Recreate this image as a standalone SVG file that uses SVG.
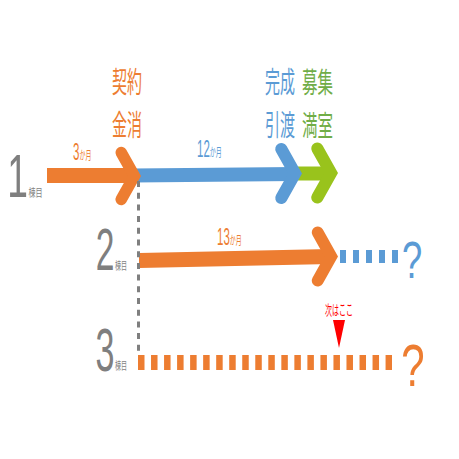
<svg xmlns="http://www.w3.org/2000/svg" width="459" height="459" viewBox="0 0 459 459">
<style>
.jp{font-family:"Noto Sans CJK JP","Noto Sans",sans-serif;}
.num{font-family:"Liberation Sans",Arial,sans-serif;}
.grey{fill:#7f7f7f;}
.or{fill:#ED7D31;}
.bl{fill:#5B9BD5;}
.gr{fill:#70AD47;}
.lime{fill:#99C31C;}
.big{font-size:29px;}
</style>
<defs>
<path id="chev" d="M0,0 L-14,-25 A5.5,5.5 0 0 0 -23.6,-19.6 L-12.6,0 L-23.6,19.6 A5.5,5.5 0 0 0 -14,25 Z"/>
</defs>
<rect width="459" height="459" fill="#ffffff"/>

<g id="connectors">
  <g id="row1-green">
    <polygon class="lime" points="298,166.5 330,166.5 330,180.5 298,180.5"/>
    <use href="#chev" class="lime" transform="translate(338,173) scale(1.1)"/>
  </g>
  <g id="row1-blue">
    <polygon class="bl" points="133,168.5 296,167 296,181 133,182.5"/>
    <use href="#chev" class="bl" transform="translate(302,173.5) scale(1.1)"/>
  </g>
  <g id="row1-orange">
    <polygon class="or" points="47,168 133,168 133,183 47,183"/>
    <use href="#chev" class="or" transform="translate(141,176) scale(1.05)"/>
  </g>
  <g id="row2-blue-dash">
    <line x1="340" y1="256.5" x2="398" y2="256.5" stroke="#5B9BD5" stroke-width="13" stroke-dasharray="6 7"/>
  </g>
  <g id="row2-orange">
    <polygon class="or" points="139,253 331,249 331,264 139,268"/>
    <use href="#chev" class="or" transform="translate(338,256.5) scale(1.08)"/>
  </g>
  <g id="row3-orange-dash">
    <line x1="138" y1="362.5" x2="392" y2="362.5" stroke="#ED7D31" stroke-width="15" stroke-dasharray="6.5 6.53"/>
  </g>
  <g id="vline">
    <line x1="138.5" y1="181" x2="138.5" y2="354" stroke="#7f7f7f" stroke-width="3" stroke-dasharray="6 5.7"/>
  </g>
  <g id="next-marker">
    <polygon points="333,320 345,320 339,348" fill="#FF0000"/>
  </g>
</g>

<g id="row-labels">
  <g id="label1">
    <text class="num grey" font-size="62" text-anchor="middle" transform="translate(17.5,197) scale(0.6,1)">1</text>
    <text class="jp grey" font-size="11" transform="translate(28.5,197) scale(0.64,1)">棟目</text>
  </g>
  <g id="label2">
    <text class="num grey" font-size="59" text-anchor="middle" transform="translate(105,270) scale(0.57,1)">2</text>
    <text class="jp grey" font-size="11" transform="translate(115,270) scale(0.55,1)">棟目</text>
  </g>
  <g id="label3">
    <text class="num grey" font-size="62" text-anchor="middle" transform="translate(105,371) scale(0.55,1)">3</text>
    <text class="jp grey" font-size="11" transform="translate(115,370) scale(0.55,1)">棟目</text>
  </g>
</g>

<g id="milestones">
  <g id="m-keiyaku">
    <text class="jp or big" transform="translate(112,93) scale(0.517,1)">契約</text>
    <text class="jp or big" transform="translate(112,136) scale(0.517,1)">金消</text>
  </g>
  <g id="m-kansei">
    <text class="jp bl big" transform="translate(265,93) scale(0.517,1)">完成</text>
    <text class="jp bl big" transform="translate(265,136) scale(0.517,1)">引渡</text>
  </g>
  <g id="m-boshu">
    <text class="jp gr big" transform="translate(302,93) scale(0.534,1)">募集</text>
    <text class="jp gr big" transform="translate(302,136) scale(0.534,1)">満室</text>
  </g>
</g>

<g id="durations">
  <text class="or" transform="translate(73,160) scale(0.5,1)"><tspan class="num" font-size="23">3</tspan><tspan class="jp" font-size="12">か月</tspan></text>
  <text class="bl" transform="translate(197,157) scale(0.5,1)"><tspan class="num" font-size="23">12</tspan><tspan class="jp" font-size="12">か月</tspan></text>
  <text class="or" transform="translate(217,245) scale(0.5,1)"><tspan class="num" font-size="23">13</tspan><tspan class="jp" font-size="12">か月</tspan></text>
</g>

<g id="questions">
  <text class="num bl" font-size="52" text-anchor="middle" transform="translate(412,278) scale(0.7,1)">?</text>
  <text class="num or" font-size="60" text-anchor="middle" transform="translate(413,386) scale(0.7,1)">?</text>
</g>

<g id="next-label">
  <text class="jp" fill="#FF0000" font-size="14" transform="translate(325,315) scale(0.5,1)">次はここ</text>
</g>
</svg>
